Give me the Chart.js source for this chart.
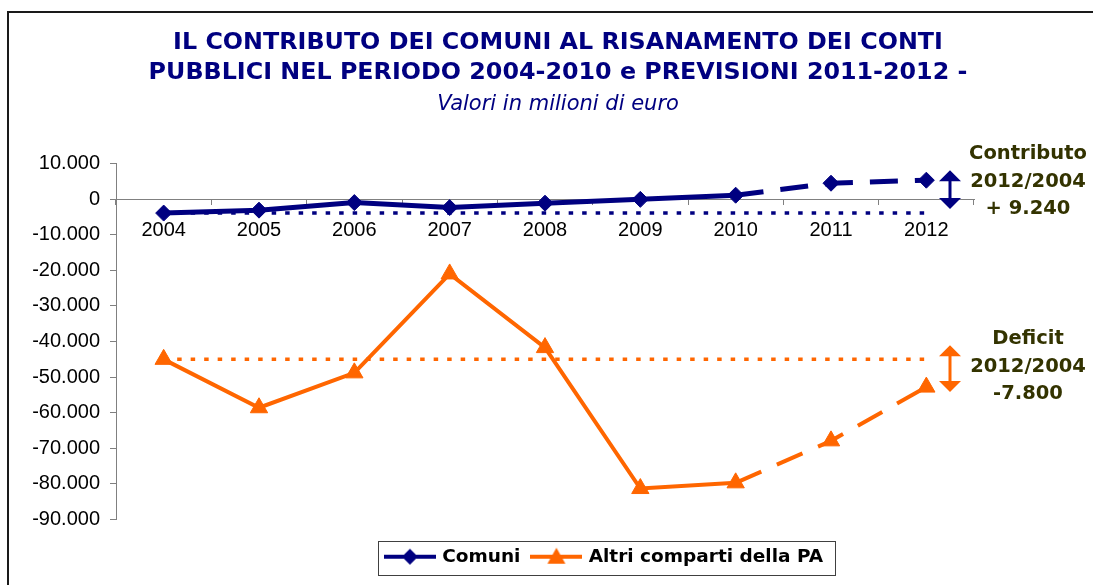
<!DOCTYPE html>
<html lang="it">
<head>
<meta charset="utf-8">
<title>Contributo dei Comuni al risanamento dei conti pubblici</title>
<script src="https://cdn.jsdelivr.net/npm/chart.js@4/dist/chart.umd.min.js"></script>
<style>
  html, body { margin: 0; padding: 0; background: #ffffff; }
  #wrap { width: 1093px; height: 585px; }
</style>
</head>
<body>
<div id="wrap"><canvas id="grafico" width="1093" height="585"></canvas></div>
<script>
// valori in milioni di euro
const anni = ['2004', '2005', '2006', '2007', '2008', '2009', '2010', '2011', '2012'];
const comuni = [-3900, -3080, -950, -2350, -1120, -50, 1120, 4490, 5340];
const altriComparti = [-45000, -58600, -48800, -21000, -41700, -81300, -79700, -67900, -52800];
const tickAsseY = [10000, 0, -10000, -20000, -30000, -40000, -50000, -60000, -70000, -80000, -90000];

const BLU = '#000080';
const ARANCIO = '#FF6600';
const OLIVA = '#333300';
const GRIGIO = '#808080';
const ULTIMO_CONSUNTIVO = 6; // 2010: dopo si tratta di previsioni

// 1.234 -> "1.234", -7800 -> "-7.800"
function migliaia(v) {
  const s = String(Math.abs(Math.round(v))).replace(/\B(?=(\d{3})+(?!\d))/g, '.');
  return (v < 0 ? '-' : '') + s;
}

const diffComuni = comuni[comuni.length - 1] - comuni[0];
const diffAltri = altriComparti[altriComparti.length - 1] - altriComparti[0];

// simbolo per la legenda: linea con marcatore al centro
function simboloLegenda(colore, forma) {
  const c = document.createElement('canvas');
  c.width = 52; c.height = 22;
  const g = c.getContext('2d');
  g.strokeStyle = colore; g.lineWidth = 4;
  g.beginPath(); g.moveTo(0, 11); g.lineTo(52, 11); g.stroke();
  g.fillStyle = colore;
  g.beginPath();
  if (forma === 'rombo') {
    g.moveTo(18, 11); g.lineTo(26, 3); g.lineTo(34, 11); g.lineTo(26, 19);
  } else {
    g.moveTo(26, 2); g.lineTo(35, 18); g.lineTo(17, 18);
  }
  g.closePath(); g.fill();
  return c;
}
const simboli = [simboloLegenda(BLU, 'rombo'), simboloLegenda(ARANCIO, 'triangolo')];

const tratteggioPrevisioni = ctx => ctx.p0DataIndex >= ULTIMO_CONSUNTIVO ? [28, 17] : undefined;

const cornice = {
  id: 'cornice',
  beforeDraw(chart) {
    const c = chart.ctx;
    c.save();
    c.fillStyle = '#1a1a1a';
    c.fillRect(7, 11, chart.width - 7, 2);
    c.fillRect(7, 11, 2, chart.height - 11);
    c.restore();
  }
};

// sposta la legenda e le disegna il riquadro
const riquadroLegenda = {
  id: 'riquadroLegenda',
  afterLayout(chart) {
    chart.legend.left += 47;
    chart.legend.right += 47;
  },
  afterDraw(chart) {
    const hb = chart.legend.legendHitBoxes;
    if (!hb || !hb.length) return;
    const last = hb[hb.length - 1];
    const x1 = hb[0].left - 9;
    const x2 = last.left + last.width + 12;
    const y1 = hb[0].top - 7;
    const y2 = hb[0].top + hb[0].height + 8;
    const c = chart.ctx;
    c.save();
    c.strokeStyle = '#404040';
    c.lineWidth = 1;
    c.strokeRect(Math.round(x1) + 0.5, Math.round(y1) + 0.5, Math.round(x2 - x1), Math.round(y2 - y1));
    c.restore();
  }
};

function frecciaDoppia(c, x, yTop, yBot, colore) {
  c.save();
  c.fillStyle = colore; c.strokeStyle = colore; c.lineWidth = 3;
  c.beginPath(); c.moveTo(x, yTop + 8); c.lineTo(x, yBot - 8); c.stroke();
  c.beginPath(); c.moveTo(x, yTop); c.lineTo(x + 11, yTop + 11); c.lineTo(x - 11, yTop + 11); c.closePath(); c.fill();
  c.beginPath(); c.moveTo(x, yBot); c.lineTo(x + 11, yBot - 11); c.lineTo(x - 11, yBot - 11); c.closePath(); c.fill();
  c.restore();
}

function testoNota(c, righe, x, yCentro) {
  c.save();
  c.fillStyle = OLIVA;
  c.font = 'bold 19.5px "DejaVu Sans"';
  c.textAlign = 'center';
  c.textBaseline = 'middle';
  righe.forEach((r, i) => c.fillText(r, x, yCentro + (i - 1) * 27.5));
  c.restore();
}

const note = {
  id: 'note',
  afterDatasetsDraw(chart) {
    const c = chart.ctx;
    const y = chart.scales.y;
    const area = chart.chartArea;
    const xf = area.right - 24;
    const xt = area.right + 54;

    const cTop = y.getPixelForValue(comuni[comuni.length - 1]) - 10;
    const cBot = y.getPixelForValue(comuni[0]) - 4;
    frecciaDoppia(c, xf, cTop, cBot, BLU);
    testoNota(c, ['Contributo', '2012/2004', '+ ' + migliaia(diffComuni)], xt, (cTop + cBot) / 2 - 8);

    const aTop = y.getPixelForValue(altriComparti[0]) - 14;
    const aBot = y.getPixelForValue(altriComparti[altriComparti.length - 1]) + 5;
    frecciaDoppia(c, xf, aTop, aBot, ARANCIO);
    testoNota(c, ['Deficit', '2012/2004', migliaia(diffAltri)], xt, (aTop + aBot) / 2 - 2);
  }
};

const fontTick = { family: '"Liberation Sans", Arial, sans-serif', size: 20 };

new Chart(document.getElementById('grafico'), {
  type: 'line',
  data: {
    labels: anni,
    datasets: [
      {
        label: 'Livello 2004 Comuni',
        data: anni.map(() => comuni[0]),
        borderColor: BLU,
        borderWidth: 3.5,
        borderDash: [4.5, 9],
        pointRadius: 0
      },
      {
        label: 'Livello 2004 Altri comparti',
        data: anni.map(() => altriComparti[0]),
        borderColor: ARANCIO,
        borderWidth: 3.5,
        borderDash: [4.5, 9],
        pointRadius: 0
      },
      {
        label: 'Comuni',
        data: comuni,
        borderColor: BLU,
        backgroundColor: BLU,
        borderWidth: 5,
        pointStyle: 'rectRot',
        pointRadius: 8,
        pointBorderWidth: 1,
        segment: { borderDash: tratteggioPrevisioni }
      },
      {
        label: 'Altri comparti della PA',
        data: altriComparti,
        borderColor: ARANCIO,
        backgroundColor: ARANCIO,
        borderWidth: 4,
        pointStyle: 'triangle',
        pointRadius: 10,
        pointBorderWidth: 1,
        segment: { borderDash: tratteggioPrevisioni }
      }
    ]
  },
  options: {
    responsive: false,
    animation: false,
    devicePixelRatio: 1,
    layout: { padding: { left: 23, right: 0, top: 0, bottom: 9 } },
    scales: {
      x: {
        type: 'category',
        offset: true,
        position: { y: 0 },
        grid: { offset: true, drawOnChartArea: false, drawTicks: true, tickLength: 5, color: GRIGIO },
        border: { display: true, color: GRIGIO, width: 1 },
        ticks: { color: '#000', font: fontTick, padding: 14, maxRotation: 0 }
      },
      // spazio vuoto tra l'area del grafico e la legenda
      x2: {
        type: 'category',
        position: 'bottom',
        display: true,
        grid: { display: false },
        border: { display: false },
        ticks: { display: false },
        afterFit(s) { s.height = 15; }
      },
      y: {
        min: -90000,
        max: 10000,
        afterBuildTicks(s) { s.ticks = tickAsseY.map(v => ({ value: v })); },
        grid: { drawOnChartArea: false, drawTicks: true, tickLength: 6, color: GRIGIO },
        border: { display: true, color: GRIGIO, width: 1 },
        ticks: { color: '#000', font: fontTick, padding: 10, callback: v => migliaia(v) },
        afterFit(s) { s.width = 93; }
      },
      y2: {
        position: 'right',
        display: true,
        grid: { display: false },
        border: { display: false },
        ticks: { display: false },
        afterFit(s) { s.width = 119; }
      }
    },
    plugins: {
      title: {
        display: true,
        text: ['IL CONTRIBUTO DEI COMUNI AL RISANAMENTO DEI CONTI', 'PUBBLICI NEL PERIODO 2004-2010 e PREVISIONI 2011-2012 -'],
        color: BLU,
        font: { family: '"DejaVu Sans"', weight: 'bold', size: 23.8, lineHeight: 1.29 },
        padding: { top: 27, bottom: 0 }
      },
      subtitle: {
        display: true,
        text: 'Valori in milioni di euro',
        color: BLU,
        font: { family: '"DejaVu Sans"', style: 'italic', size: 21, lineHeight: 1.2 },
        padding: { top: 4, bottom: 46 }
      },
      legend: {
        display: true,
        position: 'bottom',
        labels: {
          color: '#000',
          font: { family: '"DejaVu Sans"', weight: 'bold', size: 18.5 },
          usePointStyle: true,
          pointStyleWidth: 46,
          padding: 13,
          filter: item => item.datasetIndex >= 2,
          generateLabels(chart) {
            return Chart.defaults.plugins.legend.labels.generateLabels(chart).map(it => {
              if (it.datasetIndex >= 2) it.pointStyle = simboli[it.datasetIndex - 2];
              return it;
            });
          }
        }
      },
      tooltip: { enabled: false }
    }
  },
  plugins: [cornice, riquadroLegenda, note]
});
</script>
</body>
</html>
